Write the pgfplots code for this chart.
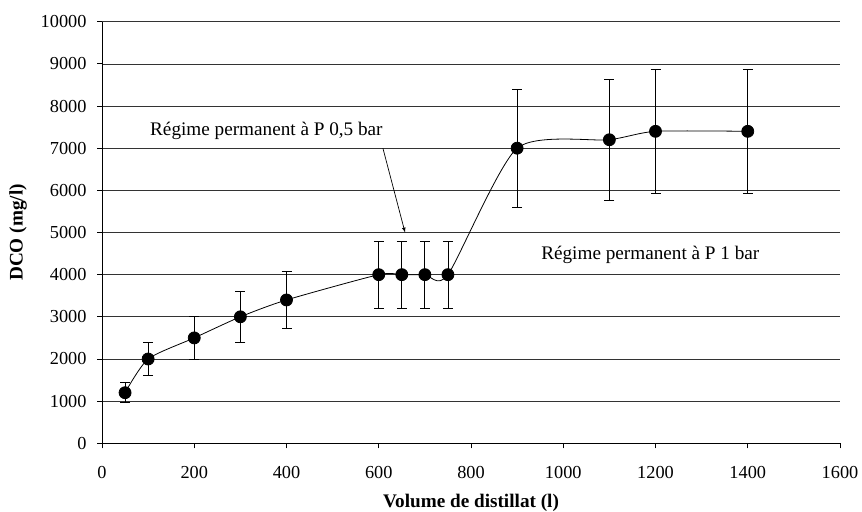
\documentclass[border=0pt]{standalone}
\usepackage{fontspec}
\setmainfont{Liberation Serif}
\usepackage{pgfplots}
\pgfplotsset{compat=1.18}
\begin{document}
\fontsize{19bp}{22bp}\selectfont
\begin{tikzpicture}
\begin{axis}[
  name=ax,
  scale only axis,
  width=738bp, height=421.6bp,
  xmin=0, xmax=1600, ymin=0, ymax=10000,
  xtick={0,200,...,1600}, ytick={0,1000,...,10000},
  scaled ticks=false,
  axis lines*=left,
  axis line style={black, line width=0.8pt, -},
  tick style={black, line width=0.8pt},
  tick align=outside,
  major tick length=5bp,
  ymajorgrids,
  grid style={black!80, line width=0.7pt},
  /pgf/number format/assume math mode=true,
  /pgf/number format/1000 sep={},
  ticklabel style={font=\fontsize{18.3bp}{21bp}\selectfont},
  xticklabel style={yshift=-11bp},
  yticklabel style={xshift=-4bp},
  xlabel={\textbf{Volume de distillat (l)}},
  ylabel={\textbf{DCO (mg/l)}},
  xlabel style={font=\fontsize{19.2bp}{22bp}\selectfont, at={(axis description cs:0.5,-0.142)}, anchor=center},
  ylabel style={font=\fontsize{19.2bp}{22bp}\selectfont, at={(axis description cs:-0.1138,0.5)}, anchor=center},
  clip=false,
]
\addplot[black, line width=0.8pt, smooth, tension=0.4,
  mark=*, mark size=6bp, mark options={fill=black},
  error bars/.cd, y dir=both, y explicit,
  error bar style={black, line width=0.8pt},
  error mark options={black, rotate=90, mark size=5bp, line width=0.8pt}]
coordinates {
(50,1200) +- (0,240)
(100,2000) +- (0,400)
(200,2500) +- (0,500)
(300,3000) +- (0,600)
(400,3400) +- (0,680)
(600,4000) +- (0,800)
(650,4000) +- (0,800)
(700,4000) +- (0,800)
(750,4000) +- (0,800)
(900,7000) +- (0,1400)
(1100,7200) +- (0,1440)
(1200,7400) +- (0,1480)
(1400,7400) +- (0,1480)
};
\node[anchor=west, inner sep=0pt, font=\fontsize{19.2bp}{22bp}\selectfont] at (axis cs:104,7408) {Régime permanent à P 0,5 bar};
\node[anchor=west, inner sep=0pt, font=\fontsize{19.2bp}{22bp}\selectfont] at (axis cs:952,4466) {Régime permanent à P 1 bar};
\draw[-latex, black, line width=0.7pt] (axis cs:609,7000) -- (axis cs:657,5000);
\end{axis}
\pgfresetboundingbox
\path ([xshift=-102bp,yshift=-68.7bp]ax.south west) rectangle ([xshift=22bp,yshift=21.7bp]ax.north east);
\end{tikzpicture}
\end{document}
